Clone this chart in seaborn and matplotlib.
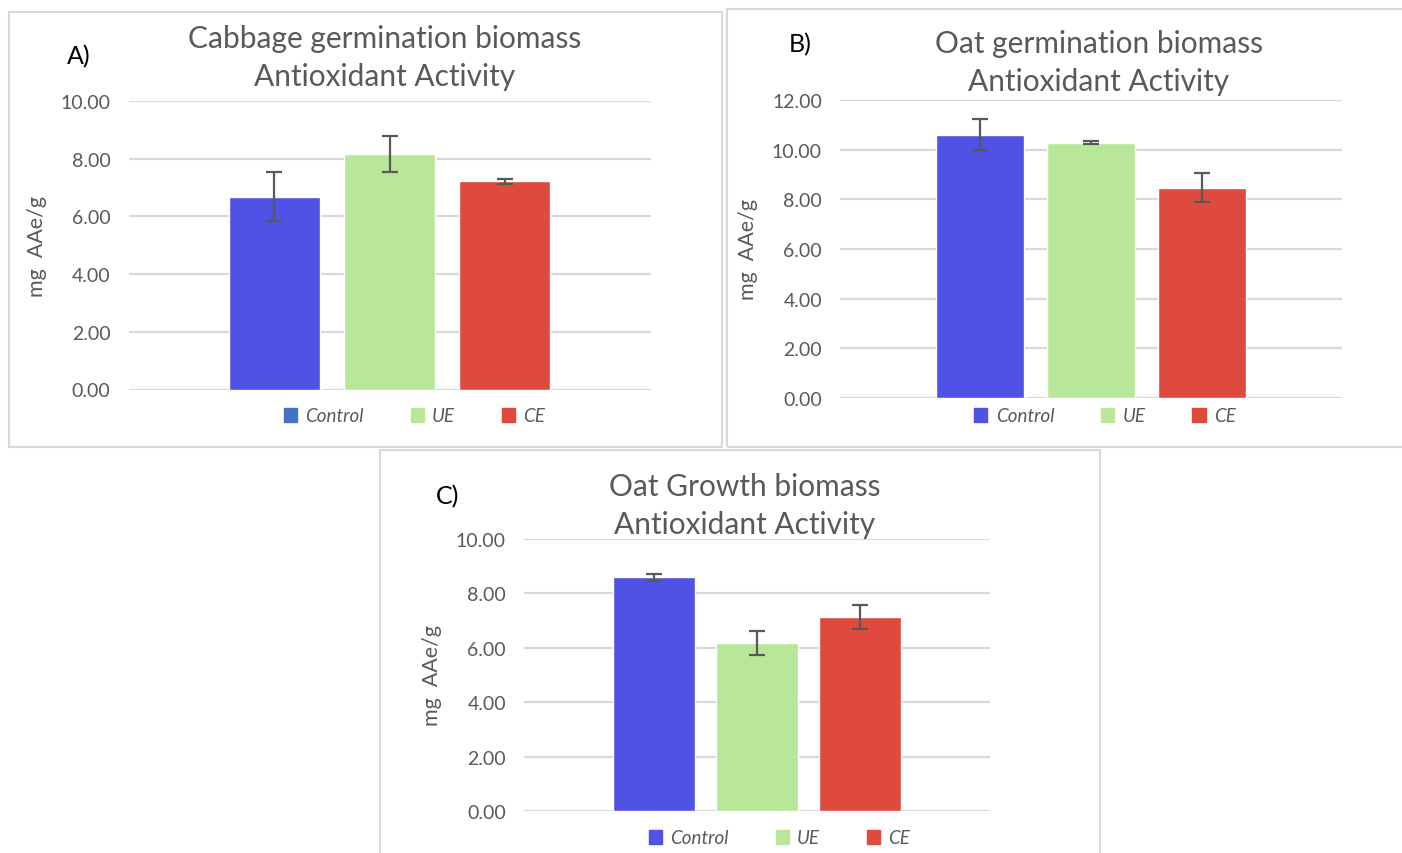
import matplotlib
matplotlib.use("Agg")
import matplotlib.pyplot as plt
import matplotlib.patches as mpatches
import seaborn as sns
import pandas as pd

# --- datos ---
grupos = ["Control", "UE", "CE"]
cabbage_germ = [6.68, 8.17, 7.22]
cabbage_germ_err = [0.85, 0.62, 0.08]
oat_germ = [10.60, 10.28, 8.47]
oat_germ_err = [0.62, 0.05, 0.58]
oat_growth = [8.60, 6.18, 7.14]
oat_growth_err = [0.13, 0.44, 0.44]

colores = ["#4F52E5", "#B9E79A", "#DE4A3D"]
gris = "#595959"
W, H = 1402, 854

sns.set_theme(style="white")
plt.rcParams["font.family"] = ["Lato", "DejaVu Sans"]

fig = plt.figure(figsize=(W / 100, H / 100), dpi=100)


def px_axes(left, top, right, bottom):
    return fig.add_axes([left / W, 1 - bottom / H, (right - left) / W, (bottom - top) / H])


def marco(left, top, right, bottom):
    r = mpatches.Rectangle((left / W, 1 - bottom / H), (right - left) / W, (bottom - top) / H,
                           transform=fig.transFigure, fill=False, edgecolor="#D9D9D9", lw=1.5)
    fig.patches.append(r)


def panel(caja, ejes, valores, errores, ymax, titulo, tcentro, letra, leg_pos, leg_control):
    marco(*caja)
    ax = px_axes(*ejes)
    df = pd.DataFrame({"grupo": grupos, "valor": valores})
    sns.barplot(data=df, x="grupo", y="valor", hue="grupo", palette=colores,
                width=0.79, errorbar=None, legend=False, ax=ax, saturation=1, zorder=3)
    ax.errorbar(range(len(grupos)), valores, yerr=errores, fmt="none", ecolor=gris,
                elinewidth=1.6, capsize=6, capthick=1.6, zorder=4)
    ax.set_xlim(-1.265, 3.265)
    ax.set_ylim(0, ymax)
    ax.set_yticks(range(0, ymax + 1, 2))
    ax.set_yticklabels([f"{v:.2f}" for v in range(0, ymax + 1, 2)], fontsize=14, color=gris)
    ax.set_xticks([])
    ax.set_xlabel("")
    ax.set_ylabel("mg  AAe/g", fontsize=15.5, color=gris, labelpad=10)
    ax.grid(axis="y", color="#D9D9D9", lw=1.6, zorder=0)
    ax.tick_params(axis="y", length=0, pad=13)
    sns.despine(ax=ax, left=True, bottom=True)
    ax.set_facecolor("none")

    fig.text(tcentro[0] / W, 1 - tcentro[1] / H, titulo, ha="center", va="center",
             fontsize=21.5, color=gris, linespacing=1.45)
    fig.text(letra[1] / W, 1 - letra[2] / H, letra[0], ha="left", va="center",
             fontsize=18, color="black")

    handles = [mpatches.Patch(color=c) for c in [leg_control] + colores[1:]]
    ax.legend(handles, grupos, loc="center", bbox_to_anchor=(leg_pos[0] / W, 1 - leg_pos[1] / H),
              bbox_transform=fig.transFigure, ncol=3, frameon=False,
              prop={"style": "italic", "size": 13.5}, labelcolor=gris,
              handlelength=0.7, handleheight=0.7, handletextpad=0.45, columnspacing=2.5)
    return ax


panel((9, 13, 722, 448), (128.5, 102, 650.5, 390.5), cabbage_germ, cabbage_germ_err, 10,
      "Cabbage germination biomass\nAntioxidant Activity", (385, 58), ("A)", 67, 57),
      (414.5, 417), "#4472C4")
panel((727, 10, 1405, 448), (840, 101, 1342, 399), oat_germ, oat_germ_err, 12,
      "Oat germination biomass\nAntioxidant Activity", (1099, 63), ("B)", 789, 45),
      (1105, 417), colores[0])
panel((380, 451, 1100, 860), (524, 540, 990, 812), oat_growth, oat_growth_err, 10,
      "Oat Growth biomass\nAntioxidant Activity", (745, 506), ("C)", 436, 497),
      (779.5, 839), colores[0])

fig.savefig("out.png", dpi=100)
